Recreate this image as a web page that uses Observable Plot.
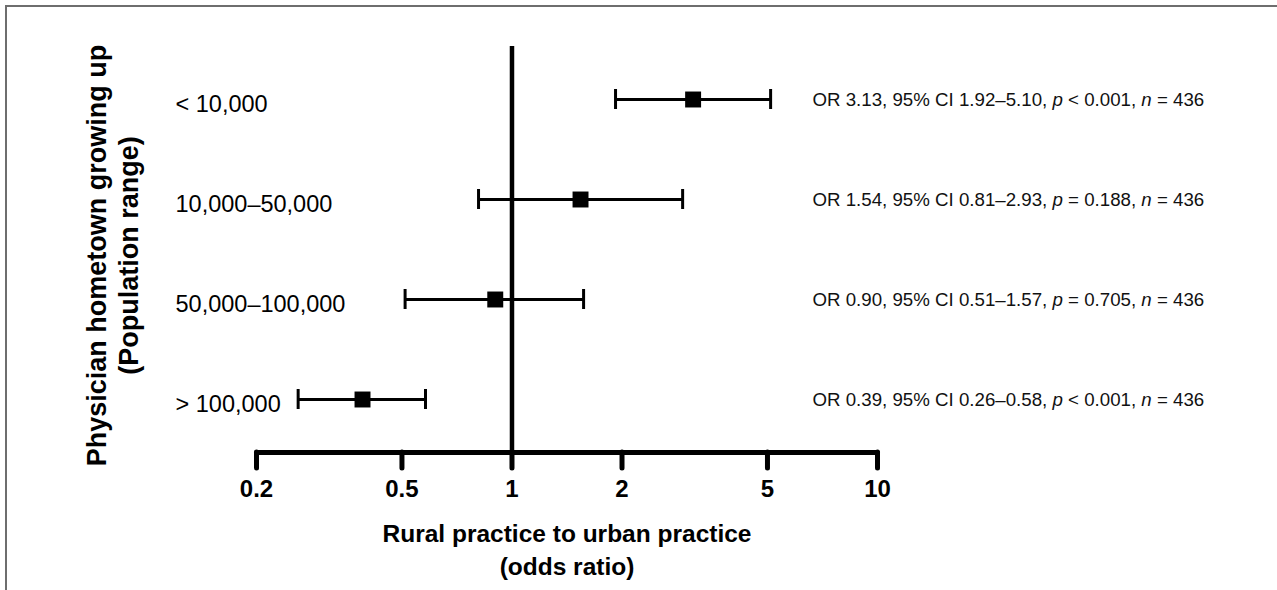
<!DOCTYPE html>
<html>
<head>
<meta charset="utf-8">
<script src="https://cdn.jsdelivr.net/npm/d3@7"></script>
<script src="https://cdn.jsdelivr.net/npm/@observablehq/plot@0.6"></script>
<style>
  html, body { margin: 0; padding: 0; background: #fff; }
  #wrap { position: relative; width: 1277px; height: 590px; overflow: hidden; }
  #border { position: absolute; left: 5px; top: 5px; width: 1300px; height: 600px;
            border-top: 2px solid #6e6e6e; border-left: 2px solid #6e6e6e; pointer-events: none; }
  svg { display: block; }
</style>
</head>
<body>
<div id="wrap"><div id="chart"></div><div id="border"></div></div>
<script>
// ---- data ----
const groups = ["< 10,000", "10,000–50,000", "50,000–100,000", "> 100,000"];
const oddsRatios = [3.13, 1.54, 0.90, 0.39];
const ciLow = [1.92, 0.81, 0.51, 0.26];
const ciHigh = [5.10, 2.93, 1.57, 0.58];
const pValues = ["< 0.001", "= 0.188", "= 0.705", "< 0.001"];
const sampleSizes = [436, 436, 436, 436];
const xTicks = [0.2, 0.5, 1, 2, 5, 10];
const xDomain = [0.2, 10];
const referenceLine = [1];
const xTitle = ["Rural practice to urban practice", "(odds ratio)"];
const yTitle = ["Physician hometown growing up", "(Population range)"];

const rows = groups.map((g, i) => ({
  group: g, or: oddsRatios[i], lo: ciLow[i], hi: ciHigh[i], p: pValues[i], n: sampleSizes[i],
  note: `OR ${oddsRatios[i].toFixed(2)}, 95% CI ${ciLow[i].toFixed(2)}–${ciHigh[i].toFixed(2)}, p ${pValues[i]}, n = ${sampleSizes[i]}`
}));

const font = "'Liberation Sans', Arial, Helvetica, sans-serif";

const svg = Plot.plot({
  width: 1277,
  height: 590,
  marginLeft: 256,
  marginRight: 400,
  marginTop: 46,
  marginBottom: 138,
  style: { fontFamily: font, background: "transparent", color: "black", overflow: "visible" },
  x: { type: "log", domain: xDomain, ticks: xTicks, tickFormat: d => String(d) },
  y: { type: "point", domain: groups, padding: 0.52, axis: null },
  marks: [
    Plot.ruleX(referenceLine, { stroke: "black", strokeWidth: 4.5 }),
    Plot.frame({ anchor: "bottom", stroke: "black", strokeWidth: 5, strokeLinecap: "round" }),
    Plot.axisX({
      ticks: xTicks, tickFormat: d => String(d), tickSize: 16, tickPadding: 11,
      strokeWidth: 5, strokeLinecap: "round", fontSize: 24, fontWeight: "bold", label: null
    }),
    // CI lines
    Plot.ruleY(rows, { y: "group", x1: "lo", x2: "hi", stroke: "black", strokeWidth: 3 }),
    // CI caps
    Plot.ruleX(rows, { x: "lo", y1: "group", y2: "group", insetTop: -10, insetBottom: -10, stroke: "black", strokeWidth: 3 }),
    Plot.ruleX(rows, { x: "hi", y1: "group", y2: "group", insetTop: -10, insetBottom: -10, stroke: "black", strokeWidth: 3 }),
    // point estimates
    Plot.dot(rows, { x: "or", y: "group", symbol: "square", r: 9, fill: "black", stroke: "none" }),
    // row labels
    Plot.text(rows, { y: "group", text: "group", frameAnchor: "left", textAnchor: "start",
      dx: -81, dy: 5, fontSize: 23.5, fill: "black" }),
    // annotations
    Plot.text(rows, { y: "group", text: "note", frameAnchor: "right", textAnchor: "start",
      dx: -65, dy: 1, fontSize: 18.7, fill: "#111", ariaDescription: "annotation" }),
    // x title
    Plot.text([xTitle.join("\n")], { frameAnchor: "bottom", dy: 95, lineAnchor: "middle",
      lineHeight: 1.36, fontSize: 24.5, fontWeight: "bold", fill: "black" }),
    // y title
    Plot.text([yTitle.join("\n")], { frameAnchor: "left", textAnchor: "middle", dx: -145, dy: 6, rotate: -90,
      lineAnchor: "middle", lineHeight: 1.18, fontSize: 27, fontWeight: "bold", fill: "black" })
  ]
});

// italic p and n in annotations
d3.select(svg).selectAll('g[aria-description="annotation"] text').each(function () {
  const s = this.textContent;
  const parts = s.split(/(\bp\b|\bn\b)/);
  this.textContent = "";
  for (const pt of parts) {
    if (pt === "") continue;
    const t = document.createElementNS("http://www.w3.org/2000/svg", "tspan");
    t.textContent = pt;
    if (pt === "p" || pt === "n") t.setAttribute("font-style", "italic");
    this.appendChild(t);
  }
});

document.getElementById("chart").appendChild(svg);
</script>
</body>
</html>
